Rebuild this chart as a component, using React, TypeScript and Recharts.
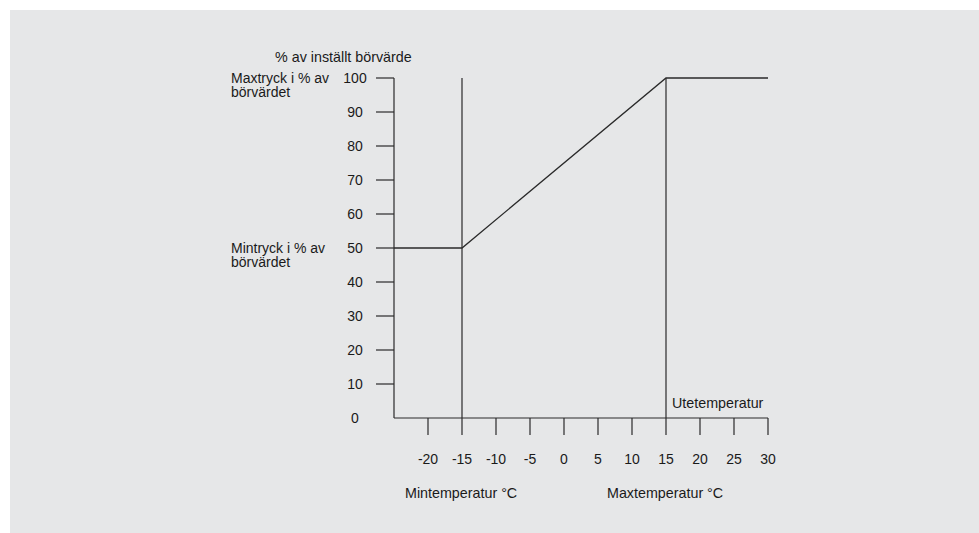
import { Line, LineChart, ReferenceLine, XAxis, YAxis } from "recharts";

// Kurva: börvärde i % som funktion av utetemperatur
const temps = [-25, -15, 15, 30];
const pressure = [50, 50, 100, 100];
const xTicks = [-20, -15, -10, -5, 0, 5, 10, 15, 20, 25, 30];
const yTicks = [0, 10, 20, 30, 40, 50, 60, 70, 80, 90, 100];
const limits = [-15, 15];

const INK = "#2a2a2a";
const FONT = '"Liberation Sans", Arial, sans-serif';

const data = temps.map((t, i) => ({ t, p: pressure[i] }));

function YTick({ x, y, payload }: any) {
  const v = payload.value as number;
  return (
    <g>
      {v !== 0 && <line x1={x + 21} x2={x + 39} y1={y} y2={y} stroke={INK} strokeWidth={1.2} />}
      <text x={x} y={y} dy="0.355em" textAnchor="middle" fontSize={14} fill="#1a1a1a" fontFamily={FONT}>
        {v}
      </text>
    </g>
  );
}

const note = (left: number, top: number, size = 14.3): React.CSSProperties => ({
  position: "absolute",
  left,
  top,
  fontSize: size,
  lineHeight: "14px",
  color: "#1a1a1a",
  whiteSpace: "nowrap",
});

export default function App() {
  return (
    <div
      style={{
        position: "absolute",
        left: 10,
        top: 10,
        width: 969,
        height: 523,
        background: "#e6e7e8",
        fontFamily: FONT,
      }}
    >
      <LineChart width={969} height={523} data={data} margin={{ top: 68, right: 211, bottom: 55, left: 324 }}>
        <XAxis
          dataKey="t"
          type="number"
          domain={[-25, 30]}
          ticks={xTicks}
          height={60}
          tickSize={17}
          tickMargin={19}
          stroke={INK}
          strokeWidth={1.2}
          tick={{ fontSize: 14, fill: "#1a1a1a", fontFamily: FONT }}
        />
        <YAxis
          type="number"
          domain={[0, 100]}
          ticks={yTicks}
          width={60}
          tickSize={18}
          tickMargin={21}
          tickLine={false}
          stroke={INK}
          strokeWidth={1.2}
          tick={<YTick />}
        />
        {limits.map((x) => (
          <ReferenceLine key={x} x={x} stroke={INK} strokeWidth={1.2} />
        ))}
        <Line dataKey="p" type="linear" stroke={INK} strokeWidth={1.3} dot={false} isAnimationActive={false} />
      </LineChart>
      <div style={note(265, 40)}>% av inställt börvärde</div>
      <div style={note(221, 61, 14)}>
        Maxtryck i % av
        <br />
        börvärdet
      </div>
      <div style={note(221, 231, 14)}>
        Mintryck i % av
        <br />
        börvärdet
      </div>
      <div style={note(662, 386)}>Utetemperatur</div>
      <div style={note(395, 476)}>Mintemperatur °C</div>
      <div style={note(597, 476)}>Maxtemperatur °C</div>
    </div>
  );
}
